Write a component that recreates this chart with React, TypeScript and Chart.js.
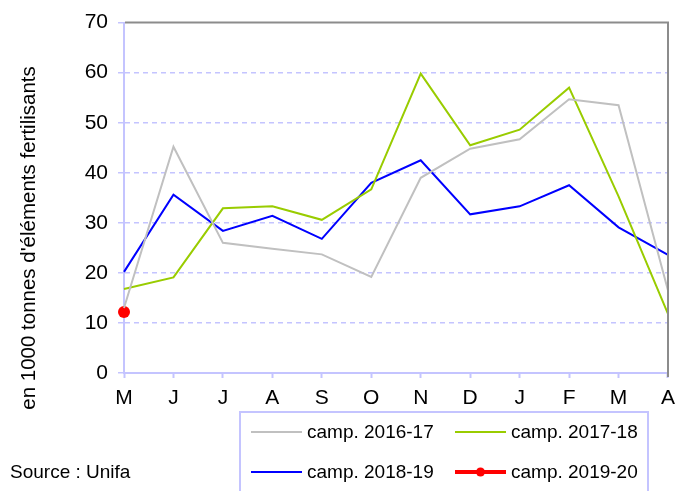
import React, { useEffect, useRef } from "react";
import { Chart, registerables } from "chart.js";

Chart.register(...registerables);

const months = ["M", "J", "J", "A", "S", "O", "N", "D", "J", "F", "M", "A"];
const camp1617 = [13, 45.2, 26, 24.8, 23.7, 19.2, 39, 44.8, 46.7, 54.7, 53.5, 16.5];
const camp1718 = [16.8, 19.1, 32.9, 33.3, 30.6, 36.7, 59.8, 45.5, 48.6, 57, 35.3, 11.8];
const camp1819 = [20.2, 35.6, 28.4, 31.4, 26.8, 38, 42.5, 31.7, 33.3, 37.5, 29.1, 23.6];
const camp1920 = [12.2, null, null, null, null, null, null, null, null, null, null, null];
const seriesLabels = ["camp. 2016-17", "camp. 2017-18", "camp. 2018-19", "camp. 2019-20"];
const yTicks = [0, 10, 20, 30, 40, 50, 60, 70];
const yTitle = "en 1000 tonnes d'éléments fertilisants";
const sourceText = "Source : Unifa";

const FONT = "'Liberation Sans', Arial, sans-serif";
const LAV = "#c4c4ff";

const decorPlugin = {
  id: "decor",
  afterDraw(chart: any) {
    const { ctx, chartArea } = chart;
    const { left, right, top, bottom } = chartArea;
    ctx.save();
    ctx.strokeStyle = "#8c8c8c";
    ctx.lineWidth = 2;
    ctx.beginPath();
    ctx.moveTo(left + 1, top);
    ctx.lineTo(right, top);
    ctx.lineTo(right, bottom + 4);
    ctx.stroke();

    ctx.fillStyle = "#000";
    ctx.font = `20.5px ${FONT}`;
    ctx.textAlign = "center";
    ctx.textBaseline = "middle";
    ctx.translate(29, 238);
    ctx.rotate(-Math.PI / 2);
    ctx.fillText(yTitle, 0, 0);
    ctx.restore();

    ctx.save();
    ctx.fillStyle = "#000";
    ctx.font = `19px ${FONT}`;
    ctx.textAlign = "left";
    ctx.textBaseline = "middle";
    ctx.fillText(sourceText, 10, 473);

    ctx.strokeStyle = LAV;
    ctx.lineWidth = 2;
    ctx.strokeRect(240, 412, 408, 90);

    const cols = [251, 455];
    const rows = [432, 472];
    chart.data.datasets.forEach((ds: any, i: number) => {
      const x = cols[i % 2];
      const y = rows[Math.floor(i / 2)];
      ctx.strokeStyle = ds.borderColor;
      ctx.lineWidth = ds.borderWidth;
      ctx.beginPath();
      ctx.moveTo(x, y);
      ctx.lineTo(x + 51, y);
      ctx.stroke();
      if (ds.pointRadius > 0) {
        ctx.fillStyle = ds.borderColor;
        ctx.beginPath();
        ctx.arc(x + 25.5, y, 4.5, 0, Math.PI * 2);
        ctx.fill();
      }
      ctx.fillStyle = "#000";
      ctx.font = `19px ${FONT}`;
      ctx.textAlign = "left";
      ctx.textBaseline = "middle";
      ctx.fillText(ds.label, x + 56, y + 1);
    });
    ctx.restore();
  },
};

export default function App() {
  const ref = useRef<HTMLCanvasElement>(null);
  useEffect(() => {
    if (!ref.current) return;
    const chart = new Chart(ref.current, {
      type: "line",
      data: {
        labels: months,
        datasets: [
          { label: seriesLabels[0], data: camp1617, borderColor: "#c0c0c0", backgroundColor: "#c0c0c0", borderWidth: 2, pointRadius: 0, tension: 0 },
          { label: seriesLabels[1], data: camp1718, borderColor: "#99cc00", backgroundColor: "#99cc00", borderWidth: 2, pointRadius: 0, tension: 0 },
          { label: seriesLabels[2], data: camp1819, borderColor: "#0000ff", backgroundColor: "#0000ff", borderWidth: 2, pointRadius: 0, tension: 0 },
          { label: seriesLabels[3], data: camp1920, borderColor: "#ff0000", backgroundColor: "#ff0000", borderWidth: 4, pointRadius: 6, pointBorderWidth: 0, tension: 0 },
        ],
      },
      options: {
        animation: false,
        responsive: false,
        layout: { padding: { top: 20, right: 15, left: 0, bottom: 0 } },
        plugins: { legend: { display: false }, tooltip: { enabled: false }, title: { display: false } },
        scales: {
          x: {
            offset: false,
            grid: { drawOnChartArea: false, drawTicks: true, tickLength: 5, tickColor: LAV, tickWidth: 2 },
            border: { display: true, color: LAV, width: 2 },
            ticks: { color: "#000", font: { family: FONT, size: 21 }, padding: 8, maxRotation: 0, autoSkip: false },
            afterFit: (s: any) => { s.height = 118; },
          },
          y: {
            min: 0,
            max: 70,
            afterBuildTicks: (s: any) => { s.ticks = yTicks.map((v) => ({ value: v })); },
            grid: {
              color: (c: any) => (c.tick && (c.tick.value === 0 || c.tick.value === 70) ? "rgba(0,0,0,0)" : LAV),
              lineWidth: 1.5,
              tickLength: 6,
              tickColor: LAV,
              tickWidth: 1.5,
            },
            border: { display: true, color: LAV, width: 2, dash: [5, 4] },
            ticks: { color: "#000", font: { family: FONT, size: 21 }, padding: 10 },
            afterFit: (s: any) => { s.width = 124; },
          },
        },
      },
      plugins: [decorPlugin],
    });
    return () => chart.destroy();
  }, []);
  return (
    <div style={{ position: "absolute", left: 0, top: 0 }}>
      <canvas ref={ref} width={683} height={491} style={{ display: "block" }} />
    </div>
  );
}
